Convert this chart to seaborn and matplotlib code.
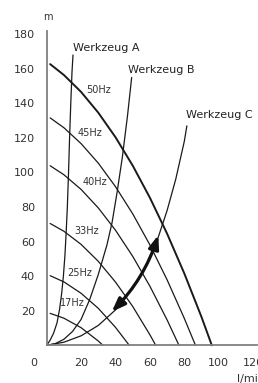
import matplotlib
matplotlib.use('Agg')
import matplotlib.pyplot as plt
import seaborn as sns

# pump curves, delivery head (m) over flow (l/min), one per frequency
freq_labels = ['50Hz', '45Hz', '40Hz', '33Hz', '25Hz', '17Hz']
q_50 = [2, 10, 20, 30, 40, 50, 60, 70, 80, 90, 96]
h_50 = [162.7, 156.4, 146.6, 134.6, 120.4, 104.0, 85.4, 64.6, 41.6, 16.4, 0]
q_45 = [2, 10, 20, 30, 40, 50, 60, 70, 80, 86.5]
h_45 = [131.6, 125.9, 116.7, 105.4, 91.8, 76.1, 58.1, 37.9, 15.6, 0]
q_40 = [2, 10, 20, 30, 40, 50, 60, 70, 76.9]
h_40 = [103.9, 98.7, 90.2, 79.5, 66.6, 51.5, 34.2, 14.7, 0]
q_33 = [2, 10, 20, 30, 40, 50, 60, 63.4]
h_33 = [70.5, 66.0, 58.4, 48.6, 36.6, 22.5, 6.1, 0]
q_25 = [2, 10, 20, 30, 40, 48]
h_25 = [40.3, 36.7, 30.1, 21.4, 10.4, 0]
q_17 = [2, 10, 20, 30, 32.7]
h_17 = [18.5, 15.7, 10.2, 2.5, 0]

# system curves of the tools
tool_names = ['Werkzeug A', 'Werkzeug B', 'Werkzeug C']
q_a = [0, 2, 4, 6, 7.5, 8.7, 9.7, 10.6, 11.3, 12, 12.7, 13.3, 14, 14.7, 15.3]
h_a = [0, 3, 7, 13, 21, 30, 40, 52, 65, 80, 100, 120, 140, 158, 168]
q_b = [0, 5, 10, 15, 20, 25, 30, 35, 38, 41, 44, 47, 49.4]
h_b = [0, 1, 3.5, 8, 15, 26.5, 41, 58, 71, 89, 109, 133, 155]
q_c = [0, 10, 20, 30, 40, 50, 60, 65, 70, 75, 80, 81.5]
h_c = [0, 1.8, 5.5, 11.5, 20.5, 33, 50, 63, 78, 96, 118, 127]

# working range arrow (from, to)
arrow_from = (37.8, 19.4)
arrow_to = (64.9, 63.8)

x_ticks = [20, 40, 60, 80, 100, 120]
y_ticks = [20, 40, 60, 80, 100, 120, 140, 160, 180]

sns.set_style('white')
plt.rcParams['font.family'] = ['DejaVu Sans']

fig = plt.figure(figsize=(2.58, 3.83), dpi=100)
ax = fig.add_axes([0, 0, 1, 1])

pumps = [(q_50, h_50), (q_45, h_45), (q_40, h_40), (q_33, h_33), (q_25, h_25), (q_17, h_17)]
for i, (q, h) in enumerate(pumps):
    sns.lineplot(x=q, y=h, ax=ax, color='#1a1a1a', lw=1.4 if i == 0 else 0.9,
                 sort=False, estimator=None, legend=False)

for q, h in [(q_a, h_a), (q_b, h_b), (q_c, h_c)]:
    sns.lineplot(x=q, y=h, ax=ax, color='#1a1a1a', lw=0.9,
                 sort=False, estimator=None, legend=False)

ax.annotate('', xy=arrow_to, xytext=arrow_from,
            arrowprops=dict(arrowstyle='<|-|>,head_length=0.8,head_width=0.3',
                            connectionstyle='arc3,rad=0.12', color='#111111',
                            lw=2.3, shrinkA=0, shrinkB=0, mutation_scale=10))

# frequency labels
hz_pos = [(30, 147.7), (25.2, 122.9), (28.1, 94.5), (23.4, 66.3), (19.4, 42), (14.7, 24.7)]
for lab, (x, y) in zip(freq_labels, hz_pos):
    ax.text(x, y, lab, fontsize=7, ha='center', va='center', color='#333333')

tool_pos = [(15.1, 172), (47.5, 159.3), (81, 133.3)]
for lab, (x, y) in zip(tool_names, tool_pos):
    ax.text(x, y, lab, fontsize=8, ha='left', va='center', color='#222222')

# axes drawn through the origin
ax.set_xlim(-27.15, 122.85)
ax.set_ylim(-21.8, 199.8)
sns.despine(ax=ax, top=True, right=True)
ax.spines['left'].set_position(('data', 0))
ax.spines['bottom'].set_position(('data', 0))
ax.spines['left'].set_bounds(0, 182)
ax.spines['bottom'].set_bounds(0, 122)
for s in ['left', 'bottom']:
    ax.spines[s].set_color('#808080')
    ax.spines[s].set_linewidth(1.3)

ax.set_xticks(x_ticks)
ax.set_yticks(y_ticks)
ax.tick_params(axis='both', direction='inout', color='#808080', width=1.1,
               labelsize=8, labelcolor='#333333')
ax.tick_params(axis='y', length=5, pad=5.9)
ax.tick_params(axis='x', length=5, pad=6.5)

ax.text(-7.8, -10.2, '0', fontsize=8, ha='center', va='center', color='#333333')
ax.text(0.9, 190.2, 'm', fontsize=7, ha='center', va='center', color='#333333')
ax.text(110.5, -19.2, 'l/min', fontsize=8, ha='left', va='center', color='#333333')

fig.savefig('out.png', dpi=100)
